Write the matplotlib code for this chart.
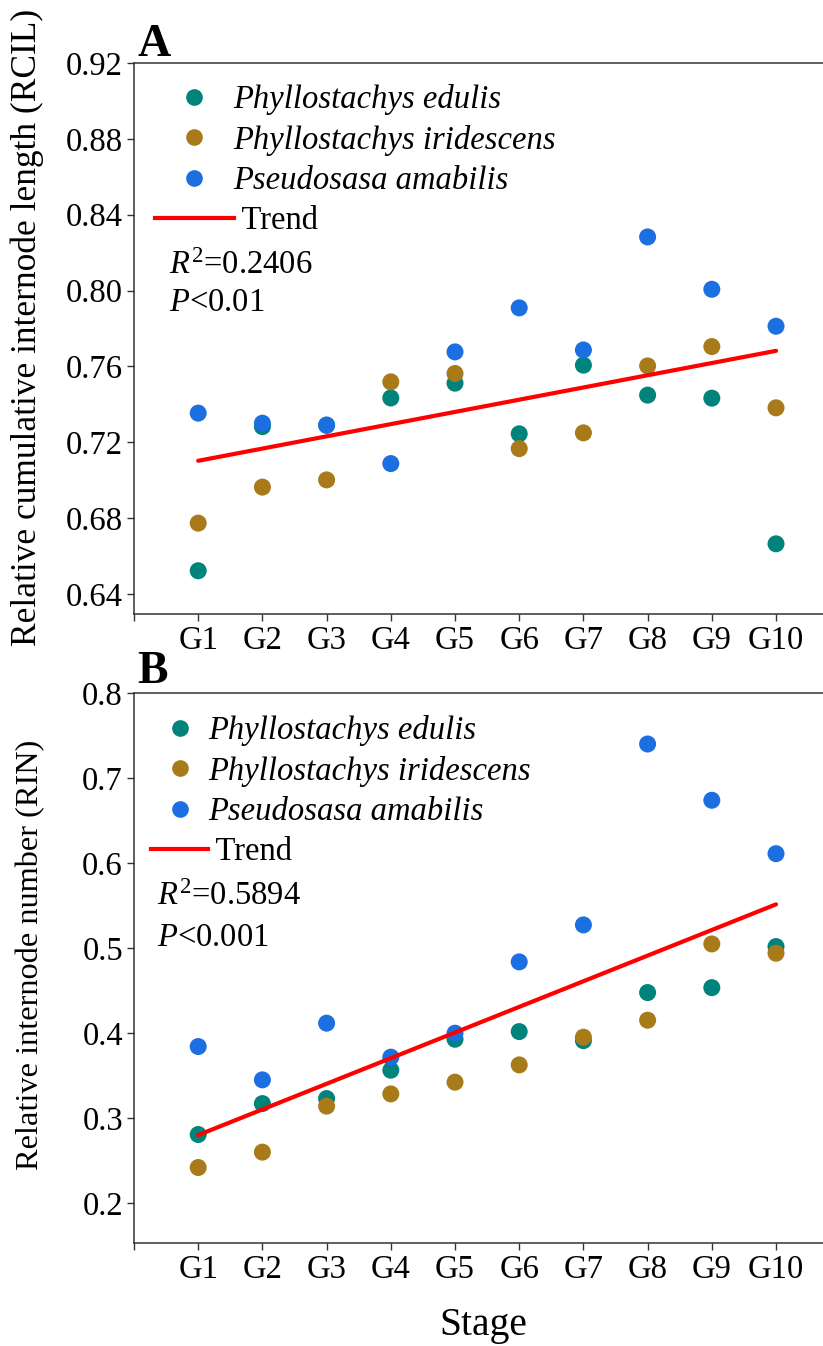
import numpy as np
import matplotlib
matplotlib.use("Agg")
import matplotlib.pyplot as plt
from matplotlib.lines import Line2D

plt.rcParams['font.family'] = ['Liberation Serif', 'DejaVu Serif']
plt.rcParams['mathtext.fontset'] = 'custom'
plt.rcParams['mathtext.rm'] = 'Liberation Serif'
plt.rcParams['mathtext.it'] = 'Liberation Serif:italic'

stages = ['G1', 'G2', 'G3', 'G4', 'G5', 'G6', 'G7', 'G8', 'G9', 'G10']
species = ['Phyllostachys edulis', 'Phyllostachys iridescens', 'Pseudosasa amabilis']
colors = ['#00837B', '#A87A1A', '#1B6FE0']

rcil_edulis = [0.6523, 0.7283, 0.7290, 0.7434, 0.7512, 0.7245, 0.7607, 0.7449, 0.7433, 0.6665]
rcil_iridescens = [0.6774, 0.6964, 0.7002, 0.7519, 0.7563, 0.7167, 0.7250, 0.7603, 0.7705, 0.7382]
rcil_amabilis = [0.7354, 0.7301, 0.7291, 0.7088, 0.7677, 0.7909, 0.7687, 0.8283, 0.8007, 0.7812]

rin_edulis = [0.2806, 0.3170, 0.3229, 0.3563, 0.3927, 0.4017, 0.3911, 0.4476, 0.4534, 0.5017]
rin_iridescens = [0.2418, 0.2599, 0.3140, 0.3284, 0.3422, 0.3625, 0.3951, 0.4151, 0.5048, 0.4939]
rin_amabilis = [0.3841, 0.3449, 0.4116, 0.3716, 0.3998, 0.4837, 0.5272, 0.7400, 0.6738, 0.6110]

stats_a = ['$\\mathit{R}^2$=0.2406', '$\\mathit{P}$<0.01']
stats_b = ['$\\mathit{R}^2$=0.5894', '$\\mathit{P}$<0.001']

W, H = 823, 1346
fig = plt.figure(figsize=(W / 100, H / 100), dpi=100)

def fx(px):
    return px / W

def fy(py):
    return 1 - py / H

ax_a = fig.add_axes([fx(134), fy(614), 1 - fx(134) + 0.01, fy(63) - fy(614)])
ax_b = fig.add_axes([fx(134), fy(1243), 1 - fx(134) + 0.01, fy(693) - fy(1243)])

x = np.arange(1, len(stages) + 1)
spine_col = '#333333'
FS = 23.5

def draw(ax, series, ylim, yticks, yfmt, ylabel, ylab_fs, ylab_xy, stats, leg_anchor, hlen, stats_xy):
    for vals, col, name in zip(series, colors, species):
        ax.scatter(x, vals, s=150, color=col, edgecolors='none', zorder=3, label=name)
    allx = np.tile(x, len(series))
    ally = np.concatenate([np.asarray(v) for v in series])
    k, b = np.polyfit(allx, ally, 1)
    ax.plot(x, k * x + b, color='#FF0000', lw=3.0, zorder=4, solid_capstyle='round')
    ax.set_xlim(0, 10.86)
    ax.set_ylim(*ylim)
    ax.set_xticks([0] + list(x))
    ax.set_xticklabels([''] + stages)
    ax.set_yticks(yticks)
    ax.set_yticklabels([yfmt.format(v) for v in yticks])
    ax.tick_params(direction='out', length=5, width=1.0, color=spine_col,
                   labelsize=FS, pad=3)
    for s in ['left', 'bottom', 'top']:
        ax.spines[s].set_color(spine_col)
        ax.spines[s].set_linewidth(1.1)
    ax.spines['right'].set_visible(False)
    ax.set_ylabel(ylabel, fontsize=ylab_fs)
    ax.yaxis.set_label_coords(*ylab_xy)
    handles = [Line2D([], [], ls='none', marker='o', ms=12, color=c, mec='none') for c in colors]
    handles.append(Line2D([], [], color='#FF0000', lw=3.0))
    labels = species + [' Trend']
    leg = ax.legend(handles, labels, loc='upper left', bbox_to_anchor=leg_anchor,
                    frameon=False, fontsize=FS, handlelength=hlen, handletextpad=0.0,
                    labelspacing=0.30, borderaxespad=0, borderpad=0)
    for t in leg.get_texts()[:3]:
        t.set_fontstyle('italic')
    ax.text(stats_xy[0], stats_xy[1], stats[0], transform=ax.transAxes, fontsize=FS,
            va='baseline', ha='left')
    ax.text(stats_xy[0], stats_xy[2], stats[1], transform=ax.transAxes, fontsize=FS,
            va='baseline', ha='left')

draw(ax_a, [rcil_edulis, rcil_iridescens, rcil_amabilis], (0.6295, 0.92),
     [0.64, 0.68, 0.72, 0.76, 0.80, 0.84, 0.88, 0.92], '{:.2f}',
     'Relative cumulative internode length (RCIL)', 25.5, (-0.129, 0.52), stats_a,
     ((155 - 134) / 689, (614 - 84) / 551), 2.4,
     ((169 - 134) / 689, (614 - 274) / 551, (614 - 311) / 551))

draw(ax_b, [rin_edulis, rin_iridescens, rin_amabilis], (0.153, 0.8),
     [0.2, 0.3, 0.4, 0.5, 0.6, 0.7, 0.8], '{:.1f}',
     'Relative internode number (RIN)', 23.3, (-0.127, 0.524), stats_b,
     ((151 - 134) / 689, (1243 - 715) / 550), 1.75,
     ((157 - 134) / 689, (1243 - 905) / 550, (1243 - 946) / 550))

fig.text(fx(137), fy(56), 'A', fontsize=33, fontweight='bold', va='baseline', ha='left')
fig.text(fx(137), fy(683), 'B', fontsize=33, fontweight='bold', va='baseline', ha='left')
fig.text(fx(483), fy(1325), 'Stage', fontsize=28.5, va='center', ha='center')

fig.savefig('out.png', dpi=100)
